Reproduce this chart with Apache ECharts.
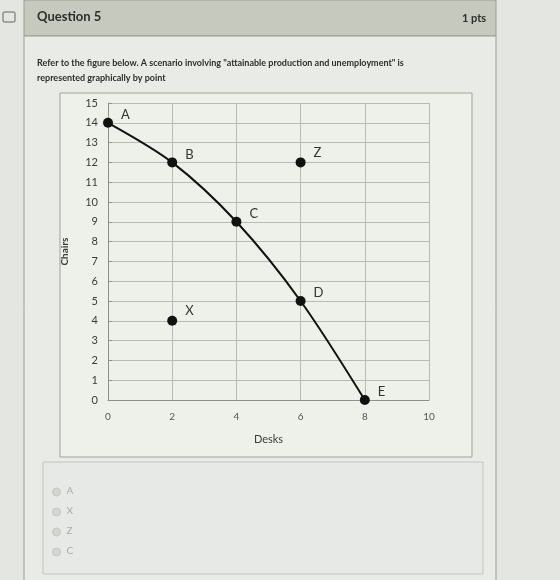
<!doctype html>
<html>
<head>
<meta charset="utf-8">
<title>Question 5</title>
<script src="https://cdn.jsdelivr.net/npm/echarts@6/dist/echarts.min.js"></script>
</head>
<body style="margin:0;background:#e4e7e1">
<div id="chart" style="width:560px;height:580px"></div>
<script>
// production possibilities curve (desks, chairs)
var ppfPoints = [[0, 14], [2, 12], [4, 9], [6, 5], [8, 0]];
var ppfLabels = ['A', 'B', 'C', 'D', 'E'];
// points off the curve
var otherPoints = [[2, 4], [6, 12]];
var otherLabels = ['X', 'Z'];
var answerChoices = ['A', 'X', 'Z', 'C'];

var chart = echarts.init(document.getElementById('chart'));

function withLabels(pts, names) {
  return pts.map(function (p, i) { return { value: p, name: names[i] }; });
}

var answerGraphics = answerChoices.map(function (c, i) {
  return {
    type: 'group', left: 52, top: 486 + i * 20,
    children: [
      { type: 'circle', shape: { cx: 5, cy: 6, r: 4 }, style: { fill: '#d3d6d0', stroke: '#c4c7c1' } },
      { type: 'text', x: 15, y: 0, style: { text: c, fill: '#a9aca6', font: '10px Lato' } }
    ]
  };
});

var option = {
  backgroundColor: '#e4e7e1',
  animation: false,
  graphic: [
    { type: 'rect', shape: { x: 24, y: 0, width: 472, height: 36 }, style: { fill: '#c6c9bd', stroke: '#9a9d94' }, z: -10 },
    { type: 'rect', shape: { x: 24, y: 36, width: 472, height: 560 }, style: { fill: '#e9ece6', stroke: '#9a9d94' }, z: -10 },
    { type: 'rect', shape: { x: 43, y: 462, width: 440, height: 112 }, style: { fill: '#e6e9e5', stroke: '#c2c5bf' }, z: -9 },
    { type: 'rect', shape: { x: 3, y: 12, width: 12, height: 10, r: 2 }, style: { fill: 'none', stroke: '#8d908a', lineWidth: 1.5 } },
    { type: 'text', left: 37, top: 10, style: { text: 'Question 5', font: 'bold 13px Lato', fill: '#2d2f2b' } },
    { type: 'text', left: 462, top: 13, style: { text: '1 pts', font: 'bold 11px Lato', fill: '#2d2f2b' } },
    { type: 'text', left: 37, top: 56, style: { text: 'Refer to the figure below. A scenario involving "attainable production and unemployment" is\nrepresented graphically by point', font: 'bold 9px Lato', lineHeight: 15, fill: '#2d2f2b' } },
    { type: 'rect', shape: { x: 60, y: 93, width: 412, height: 364 }, style: { fill: '#eef0ea', stroke: '#9fa29b' }, z: -5 }
  ].concat(answerGraphics),
  grid: { left: 108, right: 131, top: 103, bottom: 180 },
  xAxis: {
    type: 'value', min: 0, max: 10, interval: 2,
    name: 'Desks', nameLocation: 'middle', nameGap: 34,
    nameTextStyle: { color: '#3a3c38', fontSize: 11, fontFamily: 'Lato' },
    axisLine: { show: true, onZero: false, lineStyle: { color: '#8f928c' } },
    axisTick: { show: false },
    axisLabel: { color: '#55574f', fontSize: 10, fontFamily: 'Lato', margin: 12 },
    splitLine: { show: true, lineStyle: { color: '#b8bbb4' } }
  },
  yAxis: {
    type: 'value', min: 0, max: 15, interval: 1,
    name: 'Chairs', nameLocation: 'middle', nameGap: 38,
    nameTextStyle: { color: '#3a3c38', fontSize: 10, fontWeight: 'bold', fontFamily: 'Lato' },
    axisLine: { show: true, lineStyle: { color: '#8f928c' } },
    axisTick: { show: true, length: 4, inside: true, lineStyle: { color: '#8f928c' } },
    axisLabel: { color: '#3a3c38', fontSize: 11, fontFamily: 'Lato', margin: 10 },
    splitLine: { show: true, lineStyle: { color: '#b8bbb4' } }
  },
  series: [
    {
      type: 'line', data: withLabels(ppfPoints, ppfLabels), smooth: 0.3,
      symbol: 'circle', symbolSize: 10,
      lineStyle: { color: '#111', width: 2 },
      itemStyle: { color: '#111' },
      label: { show: true, formatter: '{b}', position: 'right', offset: [3, -8], color: '#333', fontSize: 13, fontFamily: 'Lato' }
    },
    {
      type: 'scatter', data: withLabels(otherPoints, otherLabels),
      symbol: 'circle', symbolSize: 10,
      itemStyle: { color: '#111', opacity: 1 },
      label: { show: true, formatter: '{b}', position: 'right', offset: [3, -10], color: '#333', fontSize: 13, fontFamily: 'Lato' }
    }
  ]
};

chart.setOption(option);
</script>
</body>
</html>
